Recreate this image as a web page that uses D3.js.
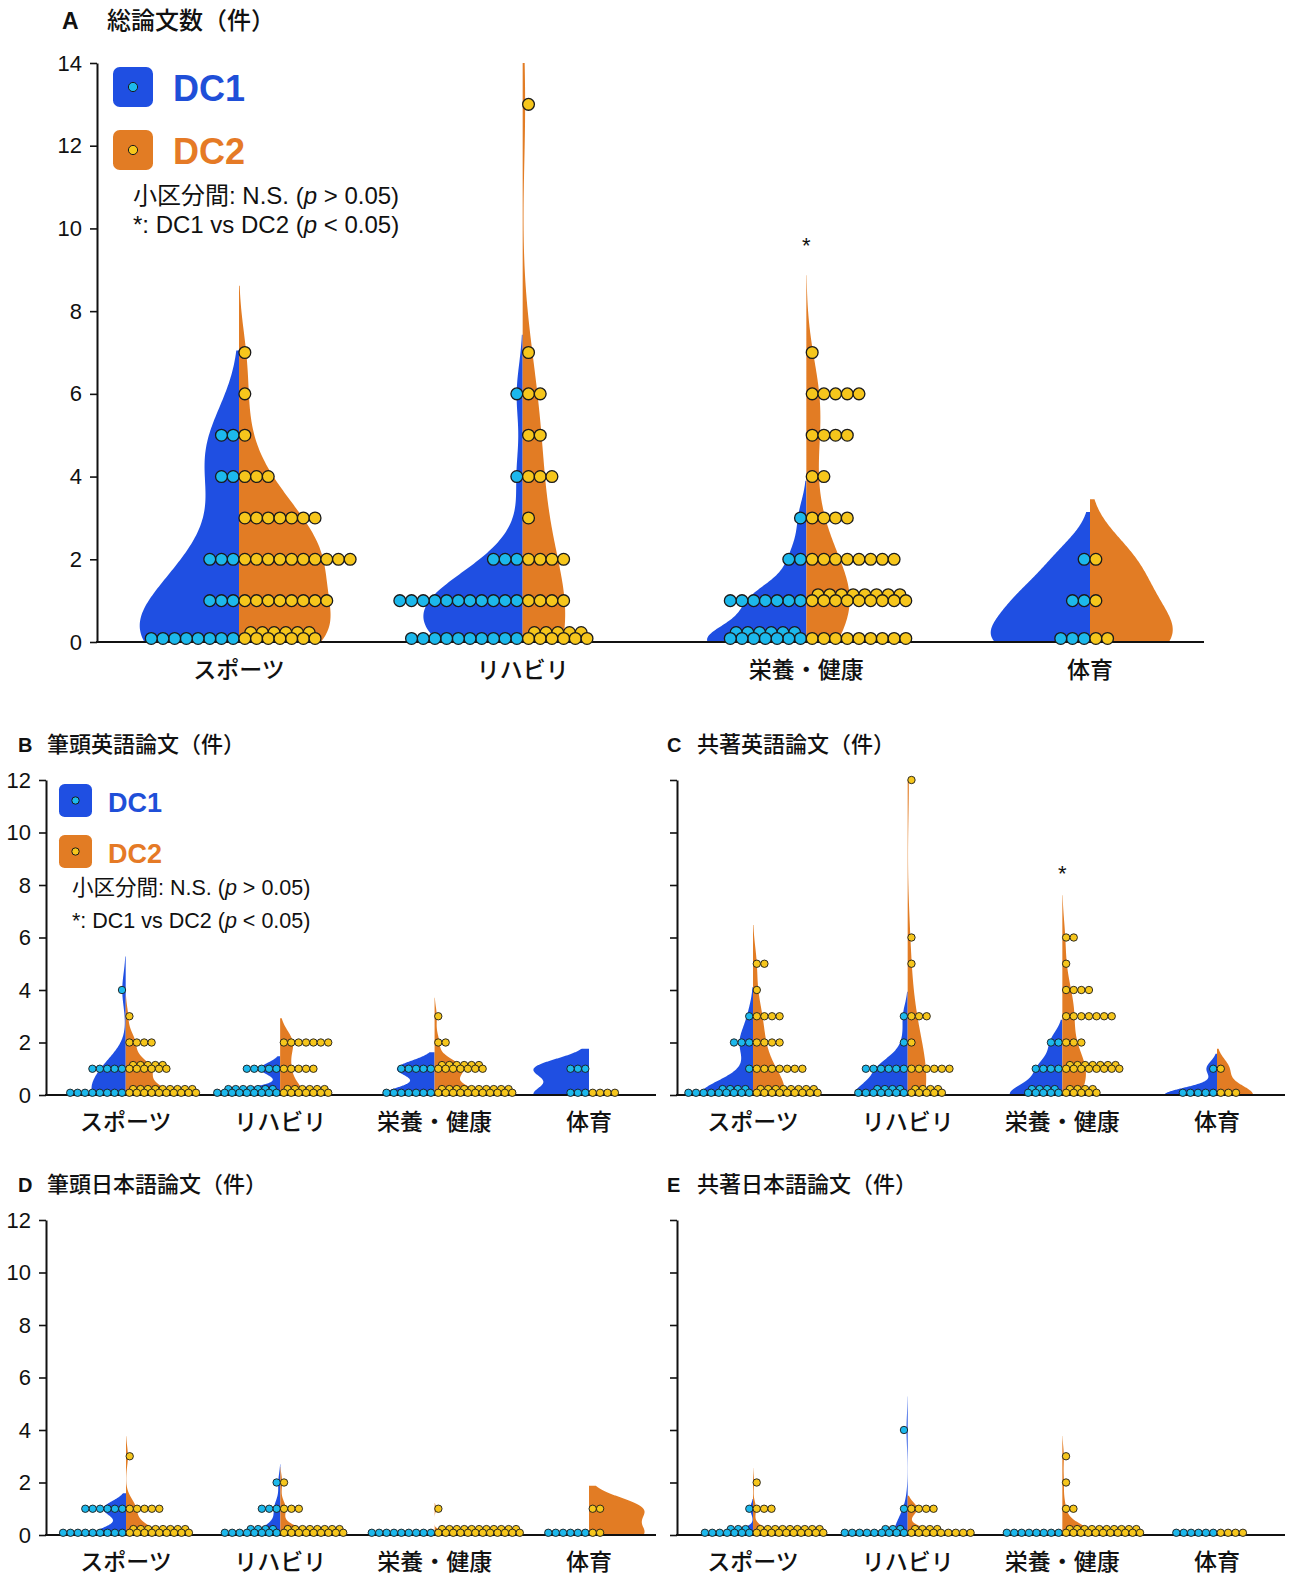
<!DOCTYPE html>
<html>
<head>
<meta charset="utf-8">
<script src="https://cdn.jsdelivr.net/npm/d3@7"></script>
<style>
  body { margin: 0; background: #fff; }
  text { font-family: "Liberation Sans", "Noto Sans CJK JP", sans-serif; fill: #111; }
  .jp { font-family: "Noto Sans CJK JP", sans-serif; font-weight: 500; }
</style>
</head>
<body>
<svg id="chart" width="1289" height="1577"></svg>
<script>
// categories and groups
const categories = ["スポーツ", "リハビリ", "栄養・健康", "体育"];
const groups = ["DC1", "DC2"];

// dots per category: [value, dots in row, dots in staggered row behind]
// A: 総論文数
const totalDC1 = [
  [[0, 8], [1, 3], [2, 3], [4, 2], [5, 2]],
  [[0, 10], [1, 11], [2, 3], [4, 1], [6, 1]],
  [[0, 7, 6], [1, 7], [2, 2], [3, 1]],
  [[0, 3], [1, 2], [2, 1]]
];
const totalDC2 = [
  [[0, 7, 6], [1, 8], [2, 10], [3, 7], [4, 3], [5, 1], [6, 1], [7, 1]],
  [[0, 6, 5], [1, 4], [2, 4], [3, 1], [4, 3], [5, 2], [6, 2], [7, 1], [13, 1]],
  [[0, 9], [1, 9, 8], [2, 8], [3, 4], [4, 2], [5, 4], [6, 5], [7, 1]],
  [[0, 2], [1, 1], [2, 1]]
];
// B: 筆頭英語論文
const firstEnDC1 = [
  [[0, 8], [1, 5], [4, 1]],
  [[0, 9, 7], [1, 5]],
  [[0, 7], [1, 5]],
  [[0, 3], [1, 3]]
];
const firstEnDC2 = [
  [[0, 10, 9], [1, 6, 5], [2, 4], [3, 1]],
  [[0, 7, 6], [1, 5], [2, 7]],
  [[0, 11, 10], [1, 7, 6], [2, 2], [3, 1]],
  [[0, 4]]
];
// C: 共著英語論文
const coEnDC1 = [
  [[0, 9, 4], [1, 1], [2, 3], [3, 1]],
  [[0, 7, 4], [1, 6], [2, 1], [3, 1]],
  [[0, 5, 4], [1, 4], [2, 2]],
  [[0, 5], [1, 1]]
];
const coEnDC2 = [
  [[0, 9, 8], [1, 7], [2, 4], [3, 4], [4, 1], [5, 2]],
  [[0, 5, 4], [1, 6], [2, 1], [3, 3], [5, 1], [6, 1], [12, 1]],
  [[0, 5, 4], [1, 8, 7], [2, 3], [3, 7], [4, 4], [5, 1], [6, 2]],
  [[0, 3], [1, 1]]
];
// D: 筆頭日本語論文
const firstJpDC1 = [
  [[0, 9], [1, 6]],
  [[0, 8, 4], [1, 3], [2, 1]],
  [[0, 9]],
  [[0, 6]]
];
const firstJpDC2 = [
  [[0, 9, 8], [1, 5], [3, 1]],
  [[0, 9, 8], [1, 3], [2, 1]],
  [[0, 12, 11], [1, 1]],
  [[0, 2], [1, 2]]
];
// E: 共著日本語論文
const coJpDC1 = [
  [[0, 7, 3], [1, 1]],
  [[0, 9, 3], [1, 1], [4, 1]],
  [[0, 8]],
  [[0, 6]]
];
const coJpDC2 = [
  [[0, 10, 9], [1, 3], [2, 1]],
  [[0, 9, 4], [1, 4]],
  [[0, 11, 10], [1, 2], [2, 1], [3, 1]],
  [[0, 4]]
];

// significance marks: [category index, value]
const starsA = [[2, 9.7]];
const starsC = [[2, 8.6]];

const violinColor = { DC1: "#1f4fe2", DC2: "#e27c24" };
const dotColor = { DC1: "#1cb8ec", DC2: "#f6c61c" };
const legendText = { DC1: "#1f4fd8", DC2: "#e57a26" };

const svg = d3.select("#chart");

/* panel layouts */
const panels = [
  { letter: "A", title: "総論文数（件）", dc1: totalDC1, dc2: totalDC2, stars: starsA, ymax: 14,
    axisX: 97, endX: 1204, yTop: 63, y0: 642, c0: 239, c3: 1090, r: 5.9, step: 11.7,
    peak: [0.35, 0.35, 0.35, 0.35], tickLabels: true, tickFont: 22,
    letterX: 62, titleX: 107, titleY: 29, letterSize: 23, titleSize: 24, labelY: 678 },
  { letter: "B", title: "筆頭英語論文（件）", dc1: firstEnDC1, dc2: firstEnDC2, stars: [], ymax: 12,
    axisX: 46, endX: 656, yTop: 780, y0: 1095, c0: 125.7, c3: 589, r: 3.7, step: 7.4,
    peak: [0.28, 0.41, 0.34, 0.36], tickLabels: true, tickFont: 22,
    letterX: 18, titleX: 47, titleY: 752, letterSize: 20, titleSize: 22, labelY: 1130 },
  { letter: "C", title: "共著英語論文（件）", dc1: coEnDC1, dc2: coEnDC2, stars: starsC, ymax: 12,
    axisX: 677, endX: 1285, yTop: 780, y0: 1095, c0: 753, c3: 1217, r: 3.7, step: 7.6,
    peak: [0.34, 0.34, 0.34, 0.34], tickLabels: false, tickFont: 22,
    letterX: 667, titleX: 697, titleY: 752, letterSize: 20, titleSize: 22, labelY: 1130 },
  { letter: "D", title: "筆頭日本語論文（件）", dc1: firstJpDC1, dc2: firstJpDC2, stars: [], ymax: 12,
    axisX: 46, endX: 656, yTop: 1220, y0: 1535, c0: 126, c3: 589, r: 3.7, step: 7.4,
    peak: [0.22, 0.2, 0.3, 0.36], tickLabels: true, tickFont: 22,
    letterX: 18, titleX: 47, titleY: 1192, letterSize: 20, titleSize: 22, labelY: 1570 },
  { letter: "E", title: "共著日本語論文（件）", dc1: coJpDC1, dc2: coJpDC2, stars: [], ymax: 12,
    axisX: 677, endX: 1285, yTop: 1220, y0: 1535, c0: 753, c3: 1217, r: 3.7, step: 7.4,
    peak: [0.2, 0.2, 0.2, 0.2], tickLabels: false, tickFont: 22,
    letterX: 667, titleX: 697, titleY: 1192, letterSize: 20, titleSize: 22, labelY: 1570 }
];

// every dot is one person
function expand(rows) {
  const vals = [];
  rows.forEach(([v, c, c2]) => {
    for (let i = 0; i < c + (c2 || 0); i++) vals.push(v);
  });
  return vals;
}

// gaussian kde, scott bandwidth, cut = 2 bandwidths
function kde(vals, ymax) {
  const n = vals.length;
  if (n < 2) return null;
  const sd = d3.deviation(vals);
  if (!sd) return null;
  const bw = sd * Math.pow(n, -0.2);
  const top = Math.min(d3.max(vals) + 2 * bw, ymax);
  return d3.range(0, 201).map(i => {
    const v = top * i / 200;
    return { v: v, d: d3.mean(vals, x => Math.exp(-0.5 * ((v - x) / bw) ** 2)) / bw };
  });
}

function drawPanel(cfg) {
  const g = svg.append("g");
  const y = d3.scaleLinear().domain([0, cfg.ymax]).range([cfg.y0, cfg.yTop]);
  const x = d3.scalePoint().domain(categories).range([cfg.c0, cfg.c3]);
  const band = x.step();

  // title
  g.append("text").attr("x", cfg.letterX).attr("y", cfg.titleY)
    .style("font-size", cfg.letterSize + "px").style("font-weight", "bold").text(cfg.letter);
  g.append("text").attr("class", "jp").attr("x", cfg.titleX).attr("y", cfg.titleY)
    .style("font-size", cfg.titleSize + "px").text(cfg.title);

  // y axis
  const yAxis = g.append("g")
    .attr("transform", `translate(${cfg.axisX},0)`)
    .call(d3.axisLeft(y)
      .tickValues(d3.range(0, cfg.ymax + 1, 2))
      .tickSize(7).tickSizeOuter(0).tickPadding(8)
      .tickFormat(cfg.tickLabels ? d3.format("d") : ""));
  yAxis.select(".domain").attr("stroke", "#111").attr("stroke-width", 2);
  yAxis.selectAll(".tick line").attr("stroke", "#111").attr("stroke-width", 1.6);
  yAxis.selectAll(".tick text").style("font-size", cfg.tickFont + "px").attr("fill", "#111");

  // violins
  const halvesAll = [];
  categories.forEach((cat, ci) => {
    const halves = groups.map((grp, gi) => {
      const rows = gi === 0 ? cfg.dc1[ci] : cfg.dc2[ci];
      return { grp: grp, rows: rows, side: gi === 0 ? -1 : 1, cx: x(cat), dens: kde(expand(rows), cfg.ymax) };
    });
    const maxD = d3.max(halves, h => h.dens ? d3.max(h.dens, d => d.d) : 0);
    const w = d3.scaleLinear().domain([0, maxD || 1]).range([0, cfg.peak[ci] * band]);
    halves.forEach(h => {
      if (h.dens) {
        g.append("path").datum(h.dens)
          .attr("fill", violinColor[h.grp])
          .attr("d", d3.area()
            .y(d => y(d.v))
            .x0(h.cx)
            .x1(d => h.cx + h.side * w(d.d)));
      }
      halvesAll.push(h);
    });
  });

  // x axis line and labels
  g.append("line")
    .attr("x1", cfg.axisX - 1).attr("x2", cfg.endX)
    .attr("y1", cfg.y0).attr("y2", cfg.y0)
    .attr("stroke", "#111").attr("stroke-width", 2);
  g.selectAll(".xlab").data(categories).join("text")
    .attr("class", "jp")
    .attr("x", d => x(d)).attr("y", cfg.labelY)
    .attr("text-anchor", "middle")
    .style("font-size", "23px")
    .text(d => d);

  // dots
  const dots = [];
  halvesAll.forEach(h => {
    h.rows.forEach(([v, c, c2]) => {
      const yb = y(v) - (v === 0 ? 0.6 * cfg.r : 0);
      for (let i = 0; i < (c2 || 0); i++) {
        dots.push({ grp: h.grp, x: h.cx + h.side * (cfg.step + i * cfg.step), y: yb - cfg.r });
      }
      for (let i = 0; i < c; i++) {
        dots.push({ grp: h.grp, x: h.cx + h.side * (cfg.step / 2 + i * cfg.step), y: yb });
      }
    });
  });
  g.append("g").selectAll("circle").data(dots).join("circle")
    .attr("cx", d => d.x).attr("cy", d => d.y).attr("r", cfg.r)
    .attr("fill", d => dotColor[d.grp])
    .attr("stroke", "#1a1a1a")
    .attr("stroke-width", cfg.r > 5 ? 1.3 : 0.9);

  // significance
  g.selectAll(".star").data(cfg.stars).join("text")
    .attr("x", d => x(categories[d[0]]))
    .attr("y", d => y(d[1]) + 12)
    .attr("text-anchor", "middle")
    .style("font-size", "22px")
    .text("*");
}

panels.forEach(drawPanel);

// legends
function legend(lx, ly, size, gap, fontSize, textX, dotR) {
  const lg = svg.append("g");
  groups.forEach((grp, i) => {
    const top = ly + i * gap;
    lg.append("rect")
      .attr("x", lx).attr("y", top).attr("width", size).attr("height", size)
      .attr("rx", size * 0.17).attr("fill", violinColor[grp]);
    lg.append("circle")
      .attr("cx", lx + size / 2).attr("cy", top + size / 2).attr("r", dotR)
      .attr("fill", dotColor[grp]).attr("stroke", "#1a1a1a").attr("stroke-width", 1);
    lg.append("text")
      .attr("x", textX).attr("y", top + size * 0.84)
      .style("font-size", fontSize + "px").style("font-weight", "bold")
      .style("fill", legendText[grp])
      .text(grp);
  });
}
legend(113, 67, 40, 63, 36, 173, 4.6);
legend(59, 784, 33, 51, 27, 108, 3.7);

// note lines
function notes(nx, ny, lineGap, fontSize) {
  const lines = [["小区分間: N.S. (", " > 0.05)"], ["*: DC1 vs DC2 (", " < 0.05)"]];
  lines.forEach((ln, i) => {
    const t = svg.append("text")
      .attr("x", nx).attr("y", ny + i * lineGap)
      .style("font-size", fontSize + "px");
    t.append("tspan").text(ln[0]);
    t.append("tspan").style("font-style", "italic").text("p");
    t.append("tspan").text(ln[1]);
  });
}
notes(133, 204, 29, 24);
notes(72, 895, 33, 21.5);
</script>
</body>
</html>
